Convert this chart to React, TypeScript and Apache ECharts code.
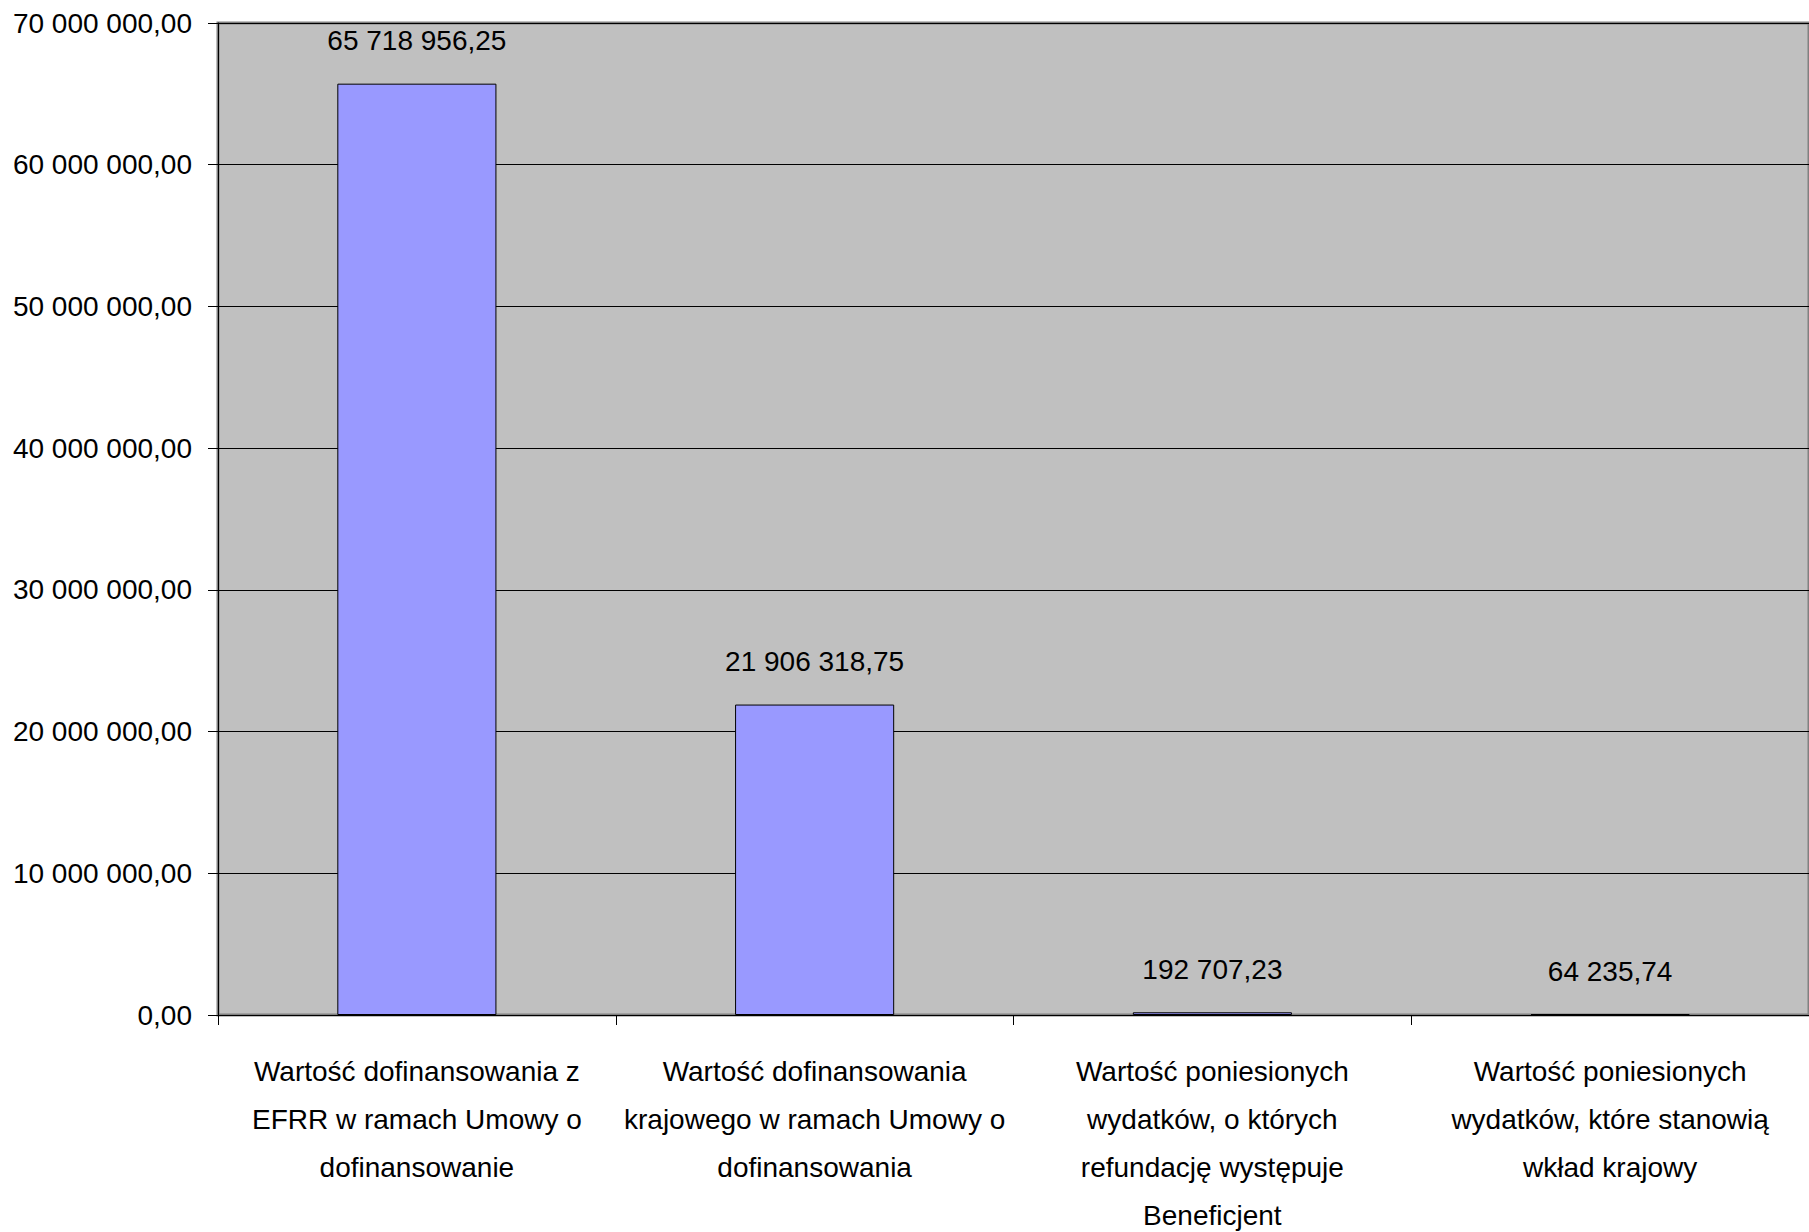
import React, { useEffect, useRef } from "react";
import * as echarts from "echarts";

const categories = [
  "Wartość dofinansowania z\nEFRR w ramach Umowy o\ndofinansowanie",
  "Wartość dofinansowania\nkrajowego w ramach Umowy o\ndofinansowania",
  "Wartość poniesionych\nwydatków, o których\nrefundację występuje\nBeneficjent",
  "Wartość poniesionych\nwydatków, które stanowią\nwkład krajowy",
];
const values = [65718956.25, 21906318.75, 192707.23, 64235.74];
const yMin = 0;
const yMax = 70000000;
const yInterval = 10000000;

function fmt(v: number): string {
  const fixed = Math.abs(v).toFixed(2);
  const [intPart, dec] = fixed.split(".");
  const grouped = intPart.replace(/\B(?=(\d{3})+(?!\d))/g, " ");
  return (v < 0 ? "-" : "") + grouped + "," + dec;
}

const FONT = "'Liberation Sans', Arial, sans-serif";

export default function App() {
  const ref = useRef<HTMLDivElement>(null);
  useEffect(() => {
    if (!ref.current) return;
    const chart = echarts.init(ref.current, undefined, { renderer: "svg" });
    chart.setOption({
      animation: false,
      backgroundColor: "#ffffff",
      textStyle: { fontFamily: FONT },
      grid: {
        left: 218,
        top: 23,
        right: 0,
        bottom: 217,
        outerBoundsMode: "none",
        containLabel: false,
        show: true,
        backgroundColor: "#C0C0C0",
        borderColor: "#808080",
        borderWidth: 3,
      },
      xAxis: {
        type: "category",
        data: categories,
        axisLine: { show: true, lineStyle: { color: "#000000", width: 1 } },
        axisTick: { show: true, length: 10, lineStyle: { color: "#000000" } },
        axisLabel: {
          color: "#000000",
          fontFamily: FONT,
          fontSize: 28,
          lineHeight: 48,
          margin: 32,
          interval: 0,
          align: "center",
        },
        splitLine: { show: false },
      },
      yAxis: {
        type: "value",
        min: yMin,
        max: yMax,
        interval: yInterval,
        axisLine: { show: true, lineStyle: { color: "#000000", width: 1 } },
        axisTick: { show: true, length: 10, lineStyle: { color: "#000000" } },
        axisLabel: {
          color: "#000000",
          fontFamily: FONT,
          fontSize: 28,
          margin: 26,
          formatter: (v: number) => fmt(v),
        },
        splitLine: { show: true, lineStyle: { color: "#000000", width: 1 } },
      },
      series: [
        {
          type: "bar",
          data: values,
          barWidth: "40%",
          itemStyle: { color: "#9999FF", borderColor: "#000000", borderWidth: 1 },
          label: {
            show: true,
            position: "top",
            distance: 29,
            color: "#000000",
            fontFamily: FONT,
            fontSize: 28,
            formatter: (p: any) => fmt(p.value),
          },
        },
      ],
    });
    return () => chart.dispose();
  }, []);
  return (
    <div
      ref={ref}
      style={{ position: "fixed", left: 0, top: 0, width: 1809, height: 1232 }}
    />
  );
}
